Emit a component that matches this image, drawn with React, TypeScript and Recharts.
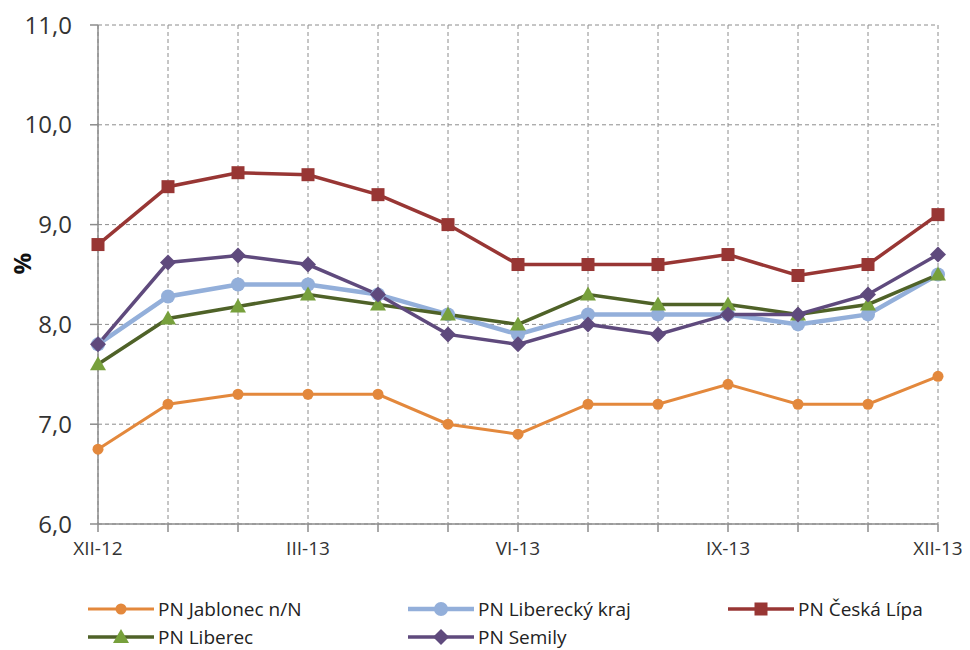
import { LineChart, Line, XAxis, YAxis, CartesianGrid, Legend } from 'recharts'

const months = ['XII-12', 'I-13', 'II-13', 'III-13', 'IV-13', 'V-13', 'VI-13', 'VII-13', 'VIII-13', 'IX-13', 'X-13', 'XI-13', 'XII-13']
const labeledMonths = ['XII-12', 'III-13', 'VI-13', 'IX-13', 'XII-13']
const yTicks = [6, 7, 8, 9, 10, 11]

const jablonec = [6.75, 7.2, 7.3, 7.3, 7.3, 7.0, 6.9, 7.2, 7.2, 7.4, 7.2, 7.2, 7.48]
const liberecKraj = [7.8, 8.28, 8.4, 8.4, 8.3, 8.1, 7.9, 8.1, 8.1, 8.1, 8.0, 8.1, 8.5]
const ceskaLipa = [8.8, 9.38, 9.52, 9.5, 9.3, 9.0, 8.6, 8.6, 8.6, 8.7, 8.49, 8.6, 9.1]
const liberec = [7.6, 8.06, 8.18, 8.3, 8.2, 8.1, 8.0, 8.3, 8.2, 8.2, 8.1, 8.2, 8.5]
const semily = [7.8, 8.62, 8.69, 8.6, 8.3, 7.9, 7.8, 8.0, 7.9, 8.1, 8.1, 8.3, 8.7]

const FONT = '"Open Sans", "DejaVu Sans", sans-serif'

type Shape = 'circle' | 'bigcircle' | 'square' | 'triangle' | 'diamond'

const series: { key: string; name: string; values: number[]; stroke: string; fill: string; width: number; shape: Shape }[] = [
  { key: 'jab', name: 'PN Jablonec n/N', values: jablonec, stroke: '#E3883C', fill: '#E3883C', width: 3, shape: 'circle' },
  { key: 'lk', name: 'PN Liberecký kraj', values: liberecKraj, stroke: '#93AFDA', fill: '#93AFDA', width: 4.5, shape: 'bigcircle' },
  { key: 'cl', name: 'PN Česká Lípa', values: ceskaLipa, stroke: '#983634', fill: '#983634', width: 3.5, shape: 'square' },
  { key: 'lib', name: 'PN Liberec', values: liberec, stroke: '#4F6228', fill: '#77A03C', width: 3.5, shape: 'triangle' },
  { key: 'sem', name: 'PN Semily', values: semily, stroke: '#5F4A7D', fill: '#5F4A7D', width: 3.5, shape: 'diamond' },
]

const rows = months.map((m, i) => {
  const r: Record<string, string | number> = { month: m }
  series.forEach(s => { r[s.key] = s.values[i] })
  return r
})

function Marker({ cx, cy, shape, fill }: { cx: number; cy: number; shape: Shape; fill: string }) {
  if (shape === 'circle') return <circle cx={cx} cy={cy} r={5.5} fill={fill} />
  if (shape === 'bigcircle') return <circle cx={cx} cy={cy} r={7} fill={fill} />
  if (shape === 'square') return <rect x={cx - 6.5} y={cy - 6.5} width={13} height={13} fill={fill} />
  if (shape === 'triangle') return <polygon points={`${cx},${cy - 8} ${cx + 8},${cy + 6} ${cx - 8},${cy + 6}`} fill={fill} />
  return <polygon points={`${cx},${cy - 8} ${cx + 8},${cy} ${cx},${cy + 8} ${cx - 8},${cy}`} fill={fill} />
}

function LegendBox() {
  return (
    <div style={{ position: 'relative', width: 970, height: 64, fontFamily: FONT, fontSize: 19, color: '#222' }}>
      {series.map((s, i) => {
        const col = i % 3
        const row = Math.floor(i / 3)
        return (
          <div key={s.key} style={{ position: 'absolute', left: 88 + col * 320, top: 13 + row * 28, height: 20, lineHeight: '20px', display: 'flex', alignItems: 'center', whiteSpace: 'nowrap' }}>
            <svg width={66} height={20} style={{ marginRight: 4 }}>
              <line x1={0} y1={10} x2={66} y2={10} stroke={s.stroke} strokeWidth={s.width} />
              <Marker cx={33} cy={10} shape={s.shape} fill={s.fill} />
            </svg>
            <span>{s.name}</span>
          </div>
        )
      })}
    </div>
  )
}

export default function App() {
  return (
    <div style={{ marginLeft: -8, marginTop: -8, width: 970, height: 650, background: '#fff' }}>
      <LineChart width={970} height={650} data={rows} margin={{ top: 25, right: 32, left: 0, bottom: 0 }}>
        <CartesianGrid stroke="#8c8c8c" strokeDasharray="4 3" strokeWidth={1} />
        <XAxis
          dataKey="month"
          height={62}
          interval={0}
          tickSize={8}
          tickMargin={10}
          tickFormatter={(v: string) => (labeledMonths.includes(v) ? v : '')}
          tick={{ fill: '#333', fontSize: 19, fontFamily: FONT }}
          axisLine={{ stroke: '#8c8c8c', strokeWidth: 1.5 }}
          tickLine={{ stroke: '#8c8c8c', strokeWidth: 1.5 }}
        />
        <YAxis
          width={98}
          domain={[6, 11]}
          ticks={yTicks}
          tickSize={8}
          tickMargin={18}
          tickFormatter={(v: number) => v.toFixed(1).replace('.', ',')}
          tick={{ fill: '#333', fontSize: 24, fontFamily: FONT }}
          axisLine={{ stroke: '#8c8c8c', strokeWidth: 1.5 }}
          tickLine={{ stroke: '#8c8c8c', strokeWidth: 1.5 }}
          label={{ value: '%', angle: -90, position: 'insideLeft', offset: 22, style: { fontFamily: FONT, fontSize: 24, fontWeight: 700, fill: '#111' } }}
        />
        <Legend verticalAlign="bottom" content={() => <LegendBox />} wrapperStyle={{ left: 0, bottom: 0, width: 970, height: 64 }} />
        {series.map(s => (
          <Line
            key={s.key}
            dataKey={s.key}
            name={s.name}
            stroke={s.stroke}
            strokeWidth={s.width}
            isAnimationActive={false}
            dot={(p: any) => <Marker key={`${s.key}-${p.index}`} cx={p.cx} cy={p.cy} shape={s.shape} fill={s.fill} />}
            activeDot={false}
          />
        ))}
      </LineChart>
    </div>
  )
}
